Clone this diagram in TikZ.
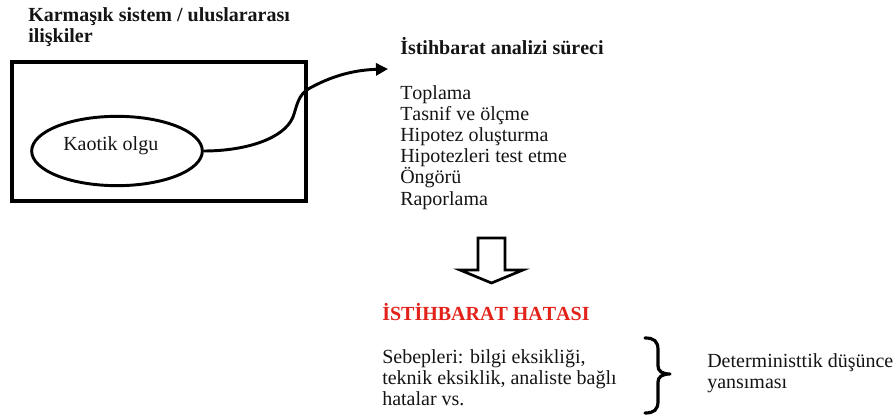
\documentclass[tikz,border=0pt]{standalone}
\usepackage{fontspec}
\setmainfont{Liberation Serif}[Kerning=Off]
\usetikzlibrary{shapes.geometric,arrows.meta}
\definecolor{hatared}{RGB}{226,34,26}
\definecolor{ink}{RGB}{20,20,20}
\begin{document}
\begin{tikzpicture}[x=0.75pt,y=-0.75pt,
  txt/.style={anchor=base west,inner sep=0pt,text=ink,font=\fontsize{15}{16}\selectfont},
  btxt/.style={anchor=base west,inner sep=0pt,text=ink,font=\fontsize{15}{16}\selectfont\bfseries},
  thick line/.style={line width=2.2pt,draw=black}]
\useasboundingbox (0,0) rectangle (896,417);
% title
\node[btxt] (t1) at (28,22) {Karmaşık sistem / uluslararası};
\node[btxt] (t2) at (28,43) {ilişkiler};
% box
\node[draw,line width=3pt,minimum width=220.5pt,minimum height=104.25pt,inner sep=0pt] (sistem) at (159,131.5) {};
% ellipse
\node[ellipse,draw,thick line,minimum width=128pt,minimum height=52pt,inner sep=0pt] (kaos) at (117,151) {};
\node[txt] (kaoslbl) at (63,151) {Kaotik olgu};
% curve arrow
\coordinate (tip) at (388,69);
\draw[thick line,-{Triangle[length=9pt,width=9pt]}] (kaos.east)
  .. controls (245,151) and (284,139) .. (293,117)
  .. controls (297,106) and (298,94) .. (310,88)
  .. controls (330,77) and (352,70) .. (tip);
% process list
\node[btxt] (pt) at (400,55) {İstihbarat analizi süreci};
\node[txt] (l1) at (400,100) {Toplama};
\node[txt] (l2) at (400,121) {Tasnif ve ölçme};
\node[txt] (l3) at (400,142) {Hipotez oluşturma};
\node[txt] (l4) at (400,163) {Hipotezleri test etme};
\node[txt] (l5) at (400,184) {Öngörü};
\node[txt] (l6) at (400,205) {Raporlama};
% block arrow
\draw[line width=2pt,fill=white] (478,238) -- (505,238) -- (505,270) -- (523,270) -- (491.5,283) -- (460,270) -- (478,270) -- cycle;
% error
\node[btxt,text=hatared] (hata) at (382,320) {İSTİHBARAT HATASI};
\node[txt] (s1) at (382,363) {Sebepleri: bilgi eksikliği,};
\node[txt] (s2) at (382,384) {teknik eksiklik, analiste bağlı};
\node[txt] (s3) at (382,405) {hatalar vs.};
% brace
\coordinate (bt) at (645,338);
\coordinate (bb) at (645,413);
\draw[line width=2.4pt,line cap=round,line join=round] (bt)
  .. controls (654,338) and (658,341) .. (658,350) -- (658,366)
  .. controls (658,371) and (662,374) .. (670,374)
  .. controls (662,374) and (658,377) .. (658,382) -- (658,401)
  .. controls (658,410) and (654,413) .. (bb);
\node[txt] (d1) at (707,367) {Deterministtik düşünce};
\node[txt] (d2) at (707,388) {yansıması};
\end{tikzpicture}
\end{document}
